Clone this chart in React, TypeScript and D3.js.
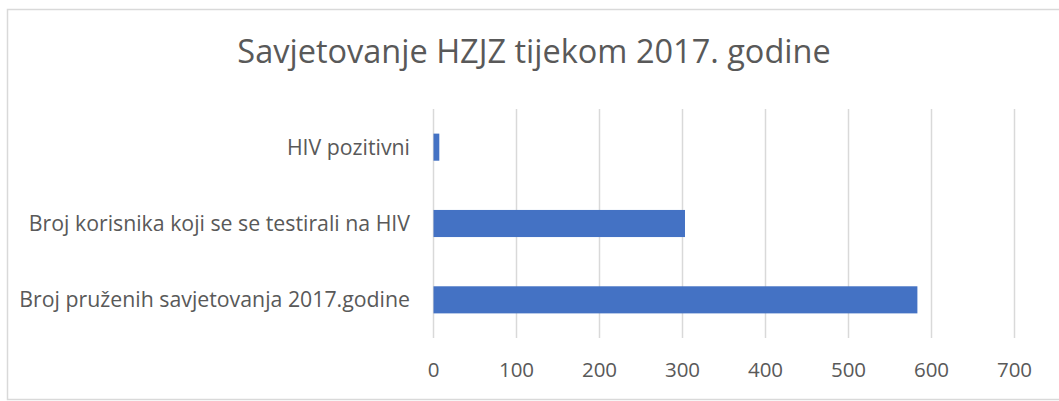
import React from "react";
import * as d3 from "d3";

const title = "Savjetovanje HZJZ tijekom 2017. godine";
const categories = [
  "HIV pozitivni",
  "Broj korisnika koji se se testirali na HIV",
  "Broj pruženih savjetovanja 2017.godine",
];
const values = [7, 303, 583];
const xTicks = [0, 100, 200, 300, 400, 500, 600, 700];

const W = 1059;
const H = 401;
const FONT = "'Open Sans', 'DejaVu Sans', sans-serif";
const TEXT = "#595959";
const GRID = "#d9d9d9";
const BAR = "#4472C4";

export default function App() {
  const x = d3.scaleLinear().domain([0, 700]).range([433.5, 1014.5]);
  const y = d3
    .scaleBand<string>()
    .domain(categories)
    .range([109, 338])
    .paddingInner(0.645)
    .paddingOuter(0.3225);

  return (
    <div style={{ position: "absolute", left: 0, top: 0 }}>
      <svg width={W} height={H} style={{ display: "block" }}>
        <rect x={0} y={0} width={W} height={H} fill="#fff" />
        <rect
          x={7.5}
          y={9.5}
          width={1070}
          height={390}
          fill="#fff"
          stroke={GRID}
          strokeWidth={1.5}
        />
        <text
          x={534}
          y={63}
          textAnchor="middle"
          fontFamily={FONT}
          fontSize={32.5}
          fill={TEXT}
        >
          {title}
        </text>
        {xTicks.map((t) => (
          <line
            key={"g" + t}
            x1={x(t)}
            x2={x(t)}
            y1={109}
            y2={338}
            stroke={GRID}
            strokeWidth={1.5}
          />
        ))}
        {categories.map((c, i) => (
          <rect
            key={"b" + c}
            x={x(0)}
            y={y(c)}
            width={x(values[i]) - x(0)}
            height={y.bandwidth()}
            fill={BAR}
          />
        ))}
        {categories.map((c) => (
          <text
            key={"l" + c}
            x={410}
            y={(y(c) as number) + y.bandwidth() / 2}
            dy="0.35em"
            textAnchor="end"
            fontFamily={FONT}
            fontSize={21.3}
            fill={TEXT}
          >
            {c}
          </text>
        ))}
        {xTicks.map((t) => (
          <text
            key={"t" + t}
            x={x(t)}
            y={377}
            textAnchor="middle"
            fontFamily={FONT}
            fontSize={20.5}
            fill={TEXT}
          >
            {t}
          </text>
        ))}
      </svg>
    </div>
  );
}
